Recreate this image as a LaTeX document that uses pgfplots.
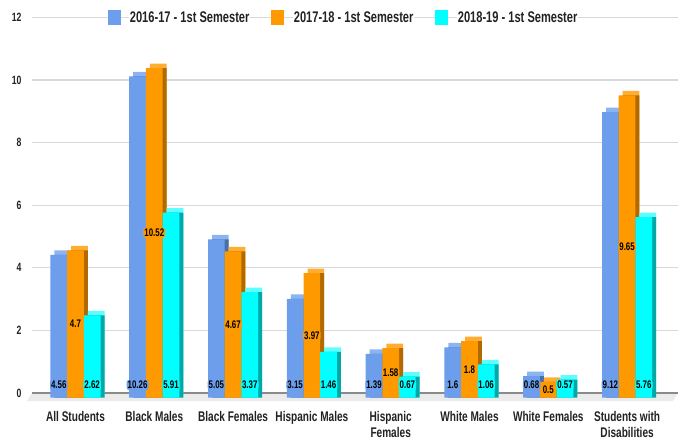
\documentclass[border=0pt]{standalone}
\usepackage{pgfplots}
\pgfplotsset{compat=1.18}
\usepackage{pgfplotstable}
\usepackage{fontspec}
\setmainfont{Liberation Sans}[FakeStretch=0.72]

\definecolor{blueF}{HTML}{6D9EEB}
\definecolor{blueT}{HTML}{8CB4F2}
\definecolor{blueS}{HTML}{4A6FA8}
\definecolor{orangeF}{HTML}{FF9900}
\definecolor{orangeT}{HTML}{FFAD33}
\definecolor{orangeS}{HTML}{B06A00}
\definecolor{cyanF}{HTML}{00FFFF}
\definecolor{cyanT}{HTML}{5CFFFF}
\definecolor{cyanS}{HTML}{00A9A9}
\definecolor{gridgray}{HTML}{D9D9D9}
\definecolor{zerogray}{HTML}{8A8A8A}
\definecolor{floorgray}{HTML}{EBEBEB}
\definecolor{txt}{HTML}{222222}

% x a = 2016-17, b = 2017-18, c = 2018-19
\pgfplotstableread{
x a b c
0 4.56 4.7 2.62
1 10.26 10.52 5.91
2 5.05 4.67 3.37
3 3.15 3.97 1.46
4 1.39 1.58 0.67
5 1.6 1.8 1.06
6 0.68 0.5 0.57
7 9.12 9.65 5.76
}\data

\pgfplotsset{
  bar/.style={ybar, bar width=16.7pt, draw=none, forget plot},
  lbl/.style={draw=none, forget plot, nodes near coords, point meta=explicit,
    every node near coord/.append style={anchor=center, fill=#1, rounded corners=2pt,
      inner sep=1pt, text=black, font=\bfseries\fontsize{11}{12}\selectfont}},
}

\begin{document}
\begin{tikzpicture}
\useasboundingbox (-32pt,-47pt) rectangle (646pt,393pt);
\begin{axis}[
  at={(0,0)}, anchor=south west,
  width=646pt, height=375.6pt, scale only axis, clip=false,
  xmin=-0.552, xmax=7.646, ymin=0, ymax=12,
  xtick={0,...,7}, ytick={0,2,...,12},
  xticklabels={All Students, Black Males, Black Females, Hispanic Males,
    Hispanic\\Females, White Males, White Females, Students with\\Disabilities},
  /pgf/number format/assume math mode=true,
  axis line style={draw=none}, major tick length=0pt,
  ymajorgrids, grid style={gridgray, line width=1.3pt},
  xticklabel style={align=center, text=txt, yshift=-15pt,
    font=\bfseries\fontsize{14}{16}\selectfont},
  yticklabel style={text=txt, xshift=-7pt, font=\bfseries\fontsize{12}{12}\selectfont},
  legend columns=3,
  legend style={at={(0.4814,1)}, anchor=center, draw=none, fill=none, inner sep=0pt,
    /tikz/every odd column/.append style={column sep=9pt},
    /tikz/every even column/.append style={column sep=21pt},
    nodes={fill=white, inner sep=1pt, text=txt, font=\bfseries\fontsize{15.4}{16}\selectfont}},
]
\addlegendimage{legend image code/.code={\fill[blueF] (0pt,-7pt) rectangle (12pt,7pt);}}
\addlegendentry{2016-17 - 1st Semester}
\addlegendimage{legend image code/.code={\fill[orangeF] (0pt,-7pt) rectangle (12pt,7pt);}}
\addlegendentry{2017-18 - 1st Semester}
\addlegendimage{legend image code/.code={\fill[cyanF] (0pt,-7pt) rectangle (12pt,7pt);}}
\addlegendentry{2018-19 - 1st Semester}

% floor and zero line
\fill[floorgray] (rel axis cs:0,0) -- (rel axis cs:1,0) -- ([xshift=-5pt,yshift=-8pt]rel axis cs:1,0)
  -- ([xshift=-5pt,yshift=-8pt]rel axis cs:0,0) -- cycle;
\draw[zerogray, line width=1.5pt] (rel axis cs:0,0) -- (rel axis cs:1,0);

% 2016-17
\addplot[bar, bar shift=-12.7pt, fill=blueT] table[x=x, y=a] {\data};
\addplot[bar, bar shift=-12.7pt, fill=blueS, yshift=-4.5pt] table[x=x, y=a] {\data};
\addplot[bar, bar shift=-16.7pt, fill=blueF, yshift=-4.5pt] table[x=x, y=a] {\data};
% 2017-18
\addplot[bar, bar shift=4pt, fill=orangeT] table[x=x, y=b] {\data};
\addplot[bar, bar shift=4pt, fill=orangeS, yshift=-4.5pt] table[x=x, y=b] {\data};
\addplot[bar, bar shift=0pt, fill=orangeF, yshift=-4.5pt] table[x=x, y=b] {\data};
% 2018-19
\addplot[bar, bar shift=20.7pt, fill=cyanT] table[x=x, y=c] {\data};
\addplot[bar, bar shift=20.7pt, fill=cyanS, yshift=-4.5pt] table[x=x, y=c] {\data};
\addplot[bar, bar shift=16.7pt, fill=cyanF, yshift=-4.5pt] table[x=x, y=c] {\data};

% value labels
\addplot[lbl=blueF, every node near coord/.append style={xshift=-16.7pt, yshift=8pt}]
  table[x=x, y expr=0, meta=a] {\data};
\addplot[lbl=orangeF, every node near coord/.append style={yshift=-4.5pt}]
  table[x=x, y expr=\thisrow{b}/2, meta=b] {\data};
\addplot[lbl=cyanF, every node near coord/.append style={xshift=16.7pt, yshift=8pt}]
  table[x=x, y expr=0, meta=c] {\data};
\end{axis}
\end{tikzpicture}
\end{document}
